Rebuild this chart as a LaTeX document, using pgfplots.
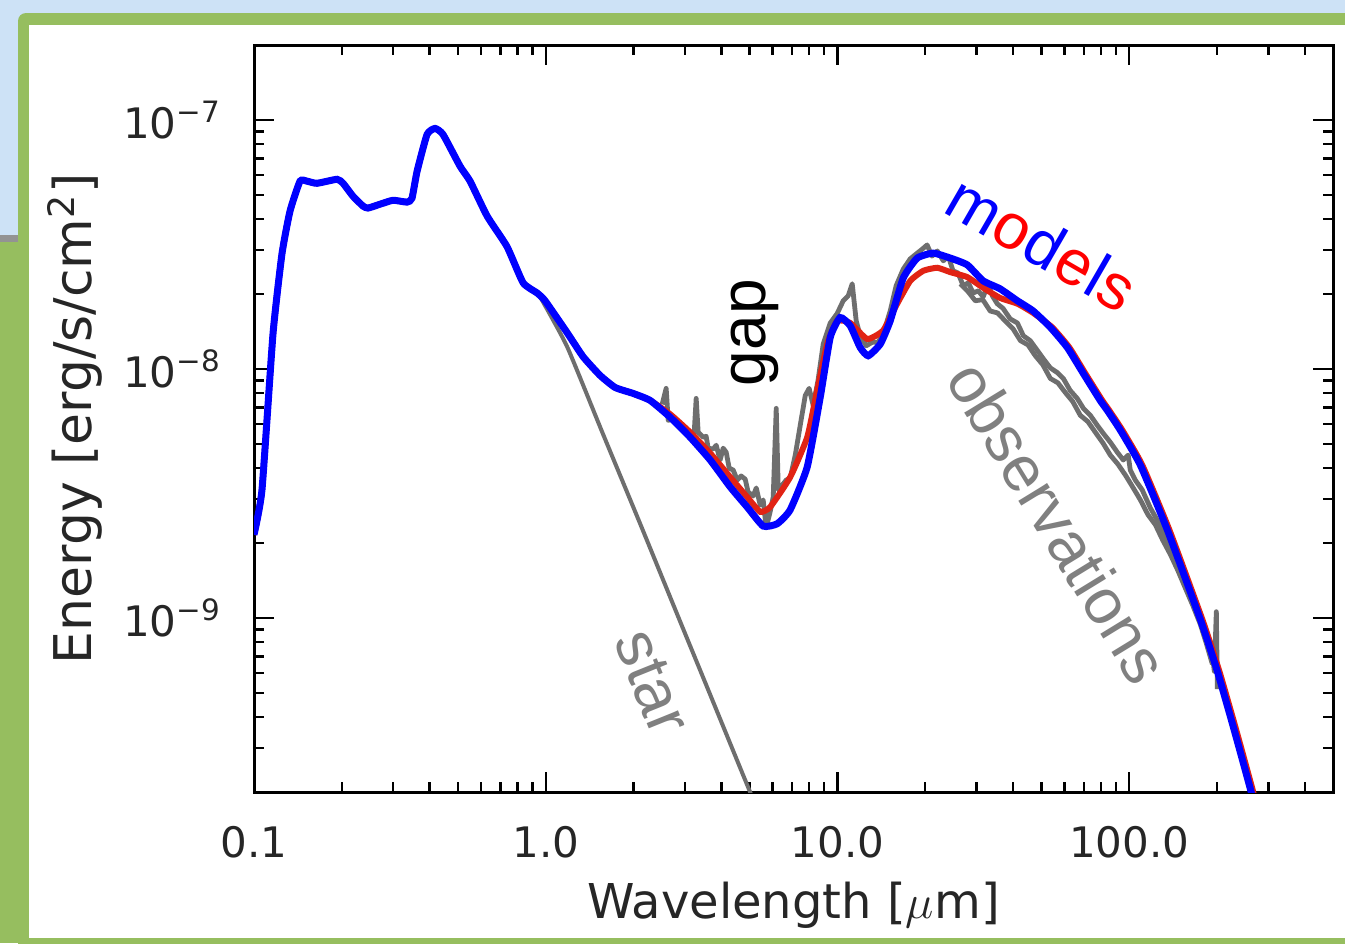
\documentclass[border=0pt]{standalone}
\usepackage{pgfplots}
\pgfplotsset{compat=1.18}
\usepackage{fontspec}
\setmainfont{DejaVu Sans}
\newfontfamily\arialf{Liberation Sans}
\definecolor{bgblue}{RGB}{205,226,246}
\definecolor{frgreen}{RGB}{150,190,95}
\definecolor{obsgray}{RGB}{110,110,110}
\definecolor{txtgray}{RGB}{128,128,128}
\definecolor{modred}{RGB}{225,35,20}
\definecolor{modblue}{RGB}{0,0,255}

\pgfplotstableread{
x y
0.1 2.16e-9
0.1065 3.27e-9
0.1162 1.387e-8
0.1247 2.90e-8
0.1329 4.31e-8
0.1438 5.68e-8
0.152 5.68e-8
0.1644 5.57e-8
0.1926 5.78e-8
0.202 5.57e-8
0.2185 4.94e-8
0.2365 4.51e-8
0.246 4.43e-8
0.2704 4.59e-8
0.2997 4.76e-8
0.3348 4.68e-8
0.348 4.85e-8
0.3623 6.22e-8
0.392 8.75e-8
0.4175 9.25e-8
0.4446 8.75e-8
0.5087 6.52e-8
0.5505 5.68e-8
0.63 4.11e-8
0.737 3.10e-8
0.8366 2.22e-8
0.9343 2.02e-8
0.995 1.88e-8
1.184 1.40e-8
1.344 1.12e-8
1.537 9.42e-9
1.73 8.43e-9
1.994 7.98e-9
2.28 7.48e-9
2.672 6.40e-9
3.128 5.32e-9
3.664 4.31e-9
4.29 3.36e-9
4.906 2.79e-9
5.566 2.34e-9
6.216 2.39e-9
6.89 2.72e-9
7.88 4.04e-9
8.73 7.69e-9
9.45 1.34e-8
10.22 1.61e-8
11.07 1.49e-8
11.97 1.22e-8
12.75 1.13e-8
14.03 1.26e-8
15.17 1.56e-8
16.82 2.32e-8
18.78 2.79e-8
21.31 2.92e-8
24.37 2.79e-8
27.86 2.62e-8
31.6 2.26e-8
36.1 2.10e-8
41.4 1.88e-8
46.9 1.71e-8
53.7 1.47e-8
61.4 1.22e-8
69.7 9.59e-9
79.6 7.48e-9
84.2 6.82e-9
93.3 5.68e-9
109.3 4.11e-9
135.2 2.26e-9
175.5 9.86e-10
200.7 6.11e-10
227.7 3.65e-10
260.4 2.06e-10
281.8 1.43e-10
}\modelblue

\pgfplotstableread{
x y
0.1 2.16e-9
0.1065 3.27e-9
0.1162 1.387e-8
0.1247 2.90e-8
0.1329 4.31e-8
0.1438 5.68e-8
0.152 5.68e-8
0.1644 5.57e-8
0.1926 5.78e-8
0.202 5.57e-8
0.2185 4.94e-8
0.2365 4.51e-8
0.246 4.43e-8
0.2704 4.59e-8
0.2997 4.76e-8
0.3348 4.68e-8
0.348 4.85e-8
0.3623 6.22e-8
0.392 8.75e-8
0.4175 9.25e-8
0.4446 8.75e-8
0.5087 6.52e-8
0.5505 5.68e-8
0.63 4.11e-8
0.737 3.10e-8
0.8366 2.22e-8
0.9343 2.02e-8
0.995 1.88e-8
1.184 1.40e-8
1.344 1.12e-8
1.537 9.42e-9
1.73 8.43e-9
1.994 7.98e-9
2.28 7.48e-9
2.672 6.58e-9
3.128 5.57e-9
3.664 4.59e-9
4.29 3.68e-9
4.906 3.06e-9
5.437 2.67e-9
5.88 2.79e-9
6.89 3.68e-9
7.88 5.32e-9
8.52 8.20e-9
9.23 1.26e-8
9.98 1.56e-8
11.07 1.53e-8
12.65 1.32e-8
14.36 1.43e-8
16.03 1.83e-8
17.77 2.26e-8
19.7 2.48e-8
22.0 2.55e-8
24.37 2.45e-8
27.86 2.34e-8
31.6 2.12e-8
36.1 1.93e-8
41.4 1.83e-8
46.9 1.68e-8
54.5 1.47e-8
62.4 1.22e-8
70.8 9.59e-9
80.9 7.48e-9
85.5 6.82e-9
94.8 5.68e-9
111 4.11e-9
137.4 2.26e-9
178.3 9.86e-10
203.9 6.11e-10
231.4 3.65e-10
264.6 2.06e-10
286 1.43e-10
}\modelred

\pgfplotstableread{
x y
0.1 2.16e-9
0.1065 3.27e-9
0.1162 1.387e-8
0.1247 2.90e-8
0.1329 4.31e-8
0.1438 5.68e-8
0.152 5.68e-8
0.1644 5.57e-8
0.1926 5.78e-8
0.202 5.57e-8
0.2185 4.94e-8
0.2365 4.51e-8
0.246 4.43e-8
0.2704 4.59e-8
0.2997 4.76e-8
0.3348 4.68e-8
0.348 4.85e-8
0.3623 6.22e-8
0.392 8.75e-8
0.4175 9.25e-8
0.4446 8.75e-8
0.5087 6.52e-8
0.5505 5.68e-8
0.63 4.11e-8
0.737 3.10e-8
0.8366 2.22e-8
0.9343 2.02e-8
0.957 1.95e-8
1.184 1.23e-8
1.573 5.47e-9
2.108 2.39e-9
2.89 9.68e-10
3.577 5.27e-10
5.02 2.00e-10
5.437 1.61e-10
}\star

\pgfplotstableread{
x y
2.507 7.21e-9
2.588 8.36e-9
2.630 6.22e-9
2.757 6.34e-9
2.89 6.00e-9
3.03 5.78e-9
3.128 5.47e-9
3.228 5.52e-9
3.28 7.62e-9
3.332 5.57e-9
3.466 5.32e-9
3.548 5.37e-9
3.606 4.81e-9
3.75 4.77e-9
3.842 4.94e-9
3.963 4.31e-9
4.059 4.81e-9
4.157 4.63e-9
4.256 4.00e-9
4.392 3.93e-9
4.534 3.58e-9
4.677 3.72e-9
4.83 3.61e-9
4.94 3.21e-9
5.144 3.09e-9
5.27 3.33e-9
5.437 2.84e-9
5.566 2.98e-9
5.70 2.30e-9
5.88 2.67e-9
6.025 3.06e-9
6.17 6.95e-9
6.27 3.27e-9
6.47 3.42e-9
6.675 3.58e-9
6.89 3.65e-9
7.17 4.51e-9
7.457 5.94e-9
7.76 7.83e-9
8.0 8.36e-9
8.26 7.14e-9
8.58 8.99e-9
8.94 1.26e-8
9.45 1.53e-8
9.98 1.67e-8
10.47 1.88e-8
10.89 1.97e-8
11.24 2.20e-8
11.6 1.56e-8
11.97 1.36e-8
12.56 1.24e-8
13.16 1.28e-8
13.8 1.28e-8
14.47 1.43e-8
15.17 1.71e-8
15.9 2.16e-8
16.82 2.52e-8
17.77 2.77e-8
18.78 2.92e-8
19.54 3.03e-8
20.3 3.15e-8
21.1 2.84e-8
22.0 2.98e-8
23.07 2.72e-8
24.0 2.84e-8
24.9 2.48e-8
25.9 2.43e-8
27.0 2.16e-8
28.1 2.22e-8
29.2 2.02e-8
30.4 2.06e-8
31.6 1.95e-8
32.9 2.20e-8
33.96 1.97e-8
35.3 1.83e-8
37.0 1.75e-8
39.1 1.59e-8
41.4 1.53e-8
43.4 1.36e-8
45.8 1.30e-8
48.4 1.19e-8
50.8 1.10e-8
53.7 1.01e-8
56.7 9.68e-9
59.5 9.16e-9
62.8 8.20e-9
66.4 7.62e-9
69.7 6.95e-9
73.6 6.52e-9
77.8 5.94e-9
81.5 5.52e-9
86.2 5.08e-9
91.1 4.63e-9
95.5 4.31e-9
99.3 4.51e-9
100.9 3.93e-9
105.0 3.58e-9
110.9 3.27e-9
118.2 2.77e-9
126.0 2.43e-9
135.2 2.06e-9
144.0 1.75e-9
153.4 1.49e-9
162.2 1.28e-9
171.4 1.08e-9
179.7 9.42e-10
186.9 8.20e-10
193.0 7.14e-10
195.9 6.11e-10
199.1 1.06e-9
200.7 5.18e-10
}\obsA

\pgfplotstableread{
x y
26.4 2.20e-8
28.0 2.05e-8
29.7 1.88e-8
31.5 1.90e-8
33.4 1.71e-8
35.4 1.68e-8
37.6 1.56e-8
40.0 1.45e-8
42.4 1.30e-8
45.0 1.25e-8
47.7 1.13e-8
50.6 1.04e-8
53.7 9.16e-9
57.0 8.80e-9
60.4 8.05e-9
64.1 7.40e-9
68.0 6.52e-9
72.2 6.15e-9
76.6 5.57e-9
81.3 5.05e-9
86.2 4.51e-9
91.5 4.15e-9
97.1 3.75e-9
103.0 3.35e-9
109.3 2.98e-9
116.0 2.60e-9
123.0 2.37e-9
130.5 2.05e-9
138.5 1.80e-9
147.0 1.55e-9
155.8 1.32e-9
165.5 1.12e-9
175.5 9.42e-10
184.0 7.90e-10
193.0 6.52e-10
}\obsB

\begin{document}
\begin{tikzpicture}
\useasboundingbox (0,0) rectangle (336.25pt,-235.75pt);
\begin{scope}[x=0.25pt,y=-0.25pt]
\fill[bgblue] (0,0) rectangle (1345,943);
\fill[frgreen, rounded corners=2pt] (18,13) rectangle (1400,1000);
\fill[frgreen] (0,242) rectangle (25,943);
\fill[gray!85] (0,235) rectangle (18,242);
\fill[white] (29,25) rectangle (1345,938);
\end{scope}
\begin{axis}[
  at={(63.5pt,-198pt)}, anchor=south west,
  scale only axis, width=269.75pt, height=186.75pt,
  xmode=log, ymode=log,
  xmin=0.1, xmax=500, ymin=2e-10, ymax=2e-7,
  axis line style={line width=0.75pt},
  every tick/.style={black, line width=0.6pt},
  major tick length=5pt, minor tick length=2.4pt,
  xtick={0.1,1,10,100}, xticklabels={0.1,1.0,10.0,100.0},
  minor xtick={0.2,0.3,0.4,0.5,0.6,0.7,0.8,0.9,2,3,4,5,6,7,8,9,20,30,40,50,60,70,80,90,200,300,400},
  ytick={1e-9,1e-8,1e-7},
  yticklabels={10\textsuperscript{−9},10\textsuperscript{−8},10\textsuperscript{−7}},
  minor ytick={3e-10,4e-10,5e-10,6e-10,7e-10,8e-10,9e-10,2e-9,3e-9,4e-9,5e-9,6e-9,7e-9,8e-9,9e-9,2e-8,3e-8,4e-8,5e-8,6e-8,7e-8,8e-8,9e-8},
  /pgf/number format/assume math mode=true,
  tick label style={font=\fontsize{10.5}{12}\selectfont, black!85},
  xticklabel style={yshift=-5pt},
  yticklabel style={xshift=-4.5pt},
  xlabel={Wavelength [$\mu$m]},
  ylabel={Energy [erg/s/cm\textsuperscript{2}]},
  label style={black!85},
  xlabel style={font=\fontsize{12}{14}\selectfont, at={(axis description cs:0.5,-0.151)}, anchor=center},
  ylabel style={font=\fontsize{13}{15}\selectfont, at={(axis description cs:-0.166,0.5)}, anchor=center},
]
\addplot[obsgray, line width=1.2pt, line join=round] table {\obsB};
\addplot[obsgray, line width=1.2pt, line join=round] table {\obsA};
\addplot[obsgray, line width=1.0pt, smooth, tension=0.3] table {\star};
\addplot[modred, line width=1.5pt, smooth, tension=0.3] table {\modelred};
\addplot[modblue, line width=1.75pt, smooth, tension=0.3] table {\modelblue};
\node[rotate=90, font=\arialf\fontsize{16}{18}\selectfont] at (axis cs:5.22,1.40e-8) {gap};
\node[rotate=-30, font=\arialf\fontsize{16}{18}\selectfont] at (axis cs:50.4,3.21e-8) {\textcolor{modblue}{m}\textcolor{red}{o}\textcolor{modblue}{d}\textcolor{red}{e}\textcolor{modblue}{l}\textcolor{red}{s}};
\node[rotate=-58.5, text=txtgray, font=\arialf\fontsize{16}{18}\selectfont] at (axis cs:57.2,2.43e-9) {observations};
\node[rotate=-68, text=txtgray, font=\arialf\fontsize{16}{18}\selectfont] at (axis cs:2.317,5.52e-10) {star};
\end{axis}
\end{tikzpicture}
\end{document}
